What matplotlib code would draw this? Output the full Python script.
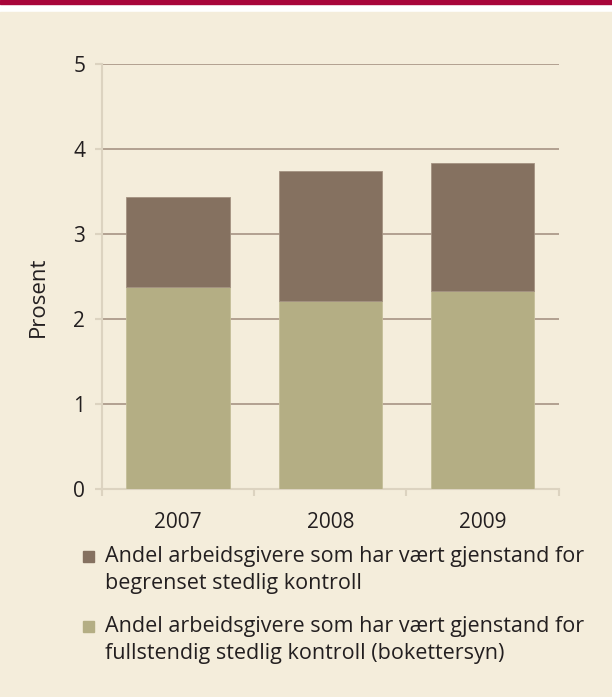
import matplotlib
matplotlib.use("Agg")
import matplotlib.pyplot as plt
from matplotlib.patches import Rectangle
import numpy as np

years = ["2007", "2008", "2009"]
fullstendig = [2.38, 2.21, 2.33]
total = [3.44, 3.75, 3.84]
begrenset = [t - f for t, f in zip(total, fullstendig)]
yticks = [0, 1, 2, 3, 4, 5]
ylabel = "Prosent"
labels = ["Andel arbeidsgivere som har vært gjenstand for\nbegrenset stedlig kontroll",
          "Andel arbeidsgivere som har vært gjenstand for\nfullstendig stedlig kontroll (bokettersyn)"]

plt.rcParams['font.family'] = ['Open Sans', 'DejaVu Sans']
txt = "#231F20"
bg = "#F4EDDB"
dark = "#857160"
light = "#B4AE84"
grid = "#A08C7C"
axc = "#DCD3C0"

W, H = 612, 697
fig = plt.figure(figsize=(W/100, H/100), dpi=100, facecolor="white")
fig.patches.append(Rectangle((0, 0), 1, 1 - 12/H, transform=fig.transFigure, color=bg, zorder=-10))
fig.patches.append(Rectangle((0, 1 - 4/H), 1, 4/H, transform=fig.transFigure, color="#A8053A", zorder=-10))

ax = fig.add_axes([102/W, 1 - 489.3/H, (558.7-102)/W, (489.3-64.3)/H])
ax.set_facecolor("none")
x = np.arange(len(years))
ax.bar(x, fullstendig, width=0.68, color=light, edgecolor="#C4BE98", linewidth=0.6, zorder=3)
ax.bar(x, begrenset, bottom=fullstendig, width=0.68, color=dark, edgecolor="#A39281", linewidth=0.6, zorder=3)
ax.set_xlim(-0.5, len(years) - 0.5)
ax.set_ylim(0, 5)
ax.set_yticks(yticks)
for v in yticks[1:]:
    ax.axhline(v, color=grid, lw=1.1, zorder=1)
for s in ["top", "right"]:
    ax.spines[s].set_visible(False)
for s in ["left", "bottom"]:
    ax.spines[s].set_color(axc)
    ax.spines[s].set_linewidth(1.5)
ax.set_xticks(x)
ax.set_xticklabels(years)
ax.set_xticks(np.arange(-0.5, len(years)), minor=True)
ax.tick_params(axis="x", which="major", length=0, pad=16, labelsize=15, labelcolor=txt)
ax.tick_params(axis="x", which="minor", length=5, width=1.5, color=axc)
ax.tick_params(axis="y", length=5, width=1.5, color=axc, pad=7, labelsize=15, labelcolor=txt)
ax.set_ylabel(ylabel, fontsize=16, color=txt)
ax.yaxis.set_label_coords(-0.117, 0.4536)

# legend
entries = [(dark, labels[0], 551), (light, labels[1], 621)]
for col, lab, ytop in entries:
    fig.patches.append(Rectangle((83/W, 1 - (ytop + 11)/H), 11/W, 11/H, transform=fig.transFigure,
                                 color=col, zorder=2))
    fig.text(105/W, 1 - (ytop - 5)/H, lab, fontsize=15.5, color=txt, va="top", ha="left",
             linespacing=1.38)

fig.savefig("out.png", dpi=100, facecolor=fig.get_facecolor())
